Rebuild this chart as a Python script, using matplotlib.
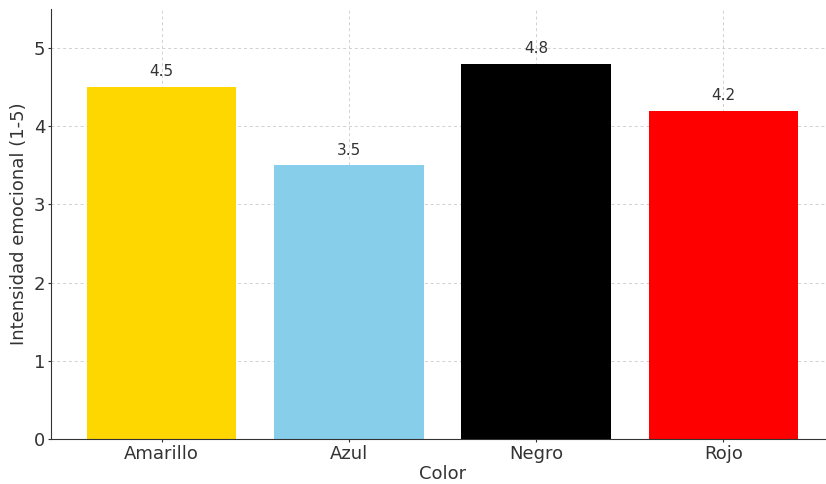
import matplotlib.pyplot as plt

# Datos del grafico
colores = ["Amarillo", "Azul", "Negro", "Rojo"]
intensidad = [4.5, 3.5, 4.8, 4.2]
relleno = ["gold", "skyblue", "black", "red"]

fig = plt.figure(figsize=(8.26, 4.84), dpi=100)
ax = fig.add_axes([51 / 826, 45 / 484, 783 / 826, 430 / 484])

bars = ax.bar(colores, intensidad, color=relleno, width=0.8, zorder=2)
for b, v in zip(bars, intensidad):
    ax.text(b.get_x() + b.get_width() / 2, v + 0.1, str(v),
            ha="center", va="bottom", fontsize=11, color="#333333", zorder=3)

ax.set_ylim(0, 5.5)
ax.set_yticks([0, 1, 2, 3, 4, 5])
ax.grid(True, linestyle=(0, (3, 3)), color="#d0d0d0", linewidth=0.7, zorder=0)
ax.set_axisbelow(True)
for s in ["top", "right"]:
    ax.spines[s].set_visible(False)
ax.spines["left"].set_color("#333333")
ax.spines["bottom"].set_color("#333333")
ax.tick_params(labelsize=13, colors="#333333", length=2, pad=2)
ax.set_xlabel("Color", fontsize=13, color="#333333", labelpad=2)
ax.set_ylabel("Intensidad emocional (1-5)", fontsize=13, color="#333333", labelpad=4)

fig.savefig("out.png", dpi=100)
